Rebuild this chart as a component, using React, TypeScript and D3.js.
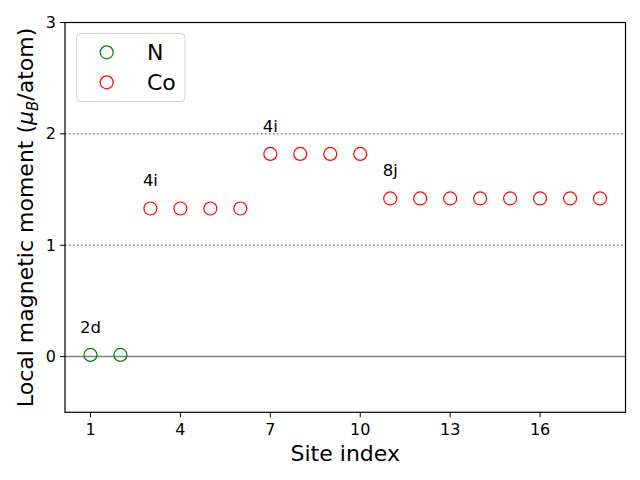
import React from "react";
import * as d3 from "d3";

const nSites = [1, 2];
const nValues = [0.015, 0.015];
const coSites = [3, 4, 5, 6, 7, 8, 9, 10, 11, 12, 13, 14, 15, 16, 17, 18];
const coValues = [1.33, 1.33, 1.33, 1.33, 1.82, 1.82, 1.82, 1.82, 1.42, 1.42, 1.42, 1.42, 1.42, 1.42, 1.42, 1.42];
const labelTexts = ["2d", "4i", "4i", "8j"];
const labelSites = [1, 3, 7, 11];
const labelValues = [0.015, 1.33, 1.82, 1.42];
const xTicks = [1, 4, 7, 10, 13, 16];
const yTicks = [0, 1, 2, 3];
const gridValues = [1, 2];

const W = 640, H = 480;
const L = 65, R = 625.5, T = 22.5, B = 412.3;
const FONT = "DejaVu Sans, sans-serif";

export default function App() {
  const x = d3.scaleLinear().domain([0.15, 18.85]).range([L, R]);
  const y = d3.scaleLinear().domain([-0.5, 3]).range([B, T]);
  const r = 6.5;
  return (
    <svg width={W} height={H} style={{ position: "absolute", left: 0, top: 0, background: "#fff" }} fontFamily={FONT}>
      {gridValues.map((g) => (
        <line key={g} x1={L} x2={R} y1={y(g)} y2={y(g)} stroke="#808080" strokeWidth={1.5} strokeDasharray="1.5,2.5" />
      ))}
      <line x1={L} x2={R} y1={y(0)} y2={y(0)} stroke="#808080" strokeWidth={1.5} />
      {nSites.map((s, i) => (
        <circle key={"n" + i} cx={x(s)} cy={y(nValues[i])} r={r} fill="none" stroke="green" strokeWidth={1.2} />
      ))}
      {coSites.map((s, i) => (
        <circle key={"c" + i} cx={x(s)} cy={y(coValues[i])} r={r} fill="none" stroke="red" strokeWidth={1.2} />
      ))}
      {labelTexts.map((t, i) => (
        <text key={"l" + i} x={x(labelSites[i])} y={y(labelValues[i] + 0.2)} textAnchor="middle" fontSize={16.5} fill="#000">{t}</text>
      ))}
      <rect x={L} y={T} width={R - L} height={B - T} fill="none" stroke="#000" strokeWidth={1.2} />
      {xTicks.map((t) => (
        <g key={"xt" + t}>
          <line x1={x(t)} x2={x(t)} y1={B} y2={B + 5} stroke="#000" strokeWidth={1} />
          <text x={x(t)} y={B + 23} textAnchor="middle" fontSize={16} fill="#000">{t}</text>
        </g>
      ))}
      {yTicks.map((t) => (
        <g key={"yt" + t}>
          <line x1={L - 5} x2={L} y1={y(t)} y2={y(t)} stroke="#000" strokeWidth={1} />
          <text x={L - 9} y={y(t)} dy="0.35em" textAnchor="end" fontSize={16} fill="#000">{t}</text>
        </g>
      ))}
      <text x={(L + R) / 2} y={461} textAnchor="middle" fontSize={22} fill="#000">Site index</text>
      <text transform={`translate(33,${(T + B) / 2}) rotate(-90)`} textAnchor="middle" fontSize={22} fill="#000">
        Local magnetic moment (<tspan fontStyle="italic">μ</tspan><tspan fontStyle="italic" fontSize={15} dy={5}>B</tspan><tspan dy={-5}>/atom)</tspan>
      </text>
      <rect x={76.5} y={33.5} width={108.5} height={68} rx={4} fill="#fff" fillOpacity={0.8} stroke="#d0d0d0" strokeWidth={1} />
      <circle cx={106.7} cy={52.3} r={r} fill="none" stroke="green" strokeWidth={1.2} />
      <circle cx={106.7} cy={82.3} r={r} fill="none" stroke="red" strokeWidth={1.2} />
      <text x={147} y={52.3} dy="0.35em" fontSize={22} fill="#000">N</text>
      <text x={147} y={82.3} dy="0.35em" fontSize={22} fill="#000">Co</text>
    </svg>
  );
}
